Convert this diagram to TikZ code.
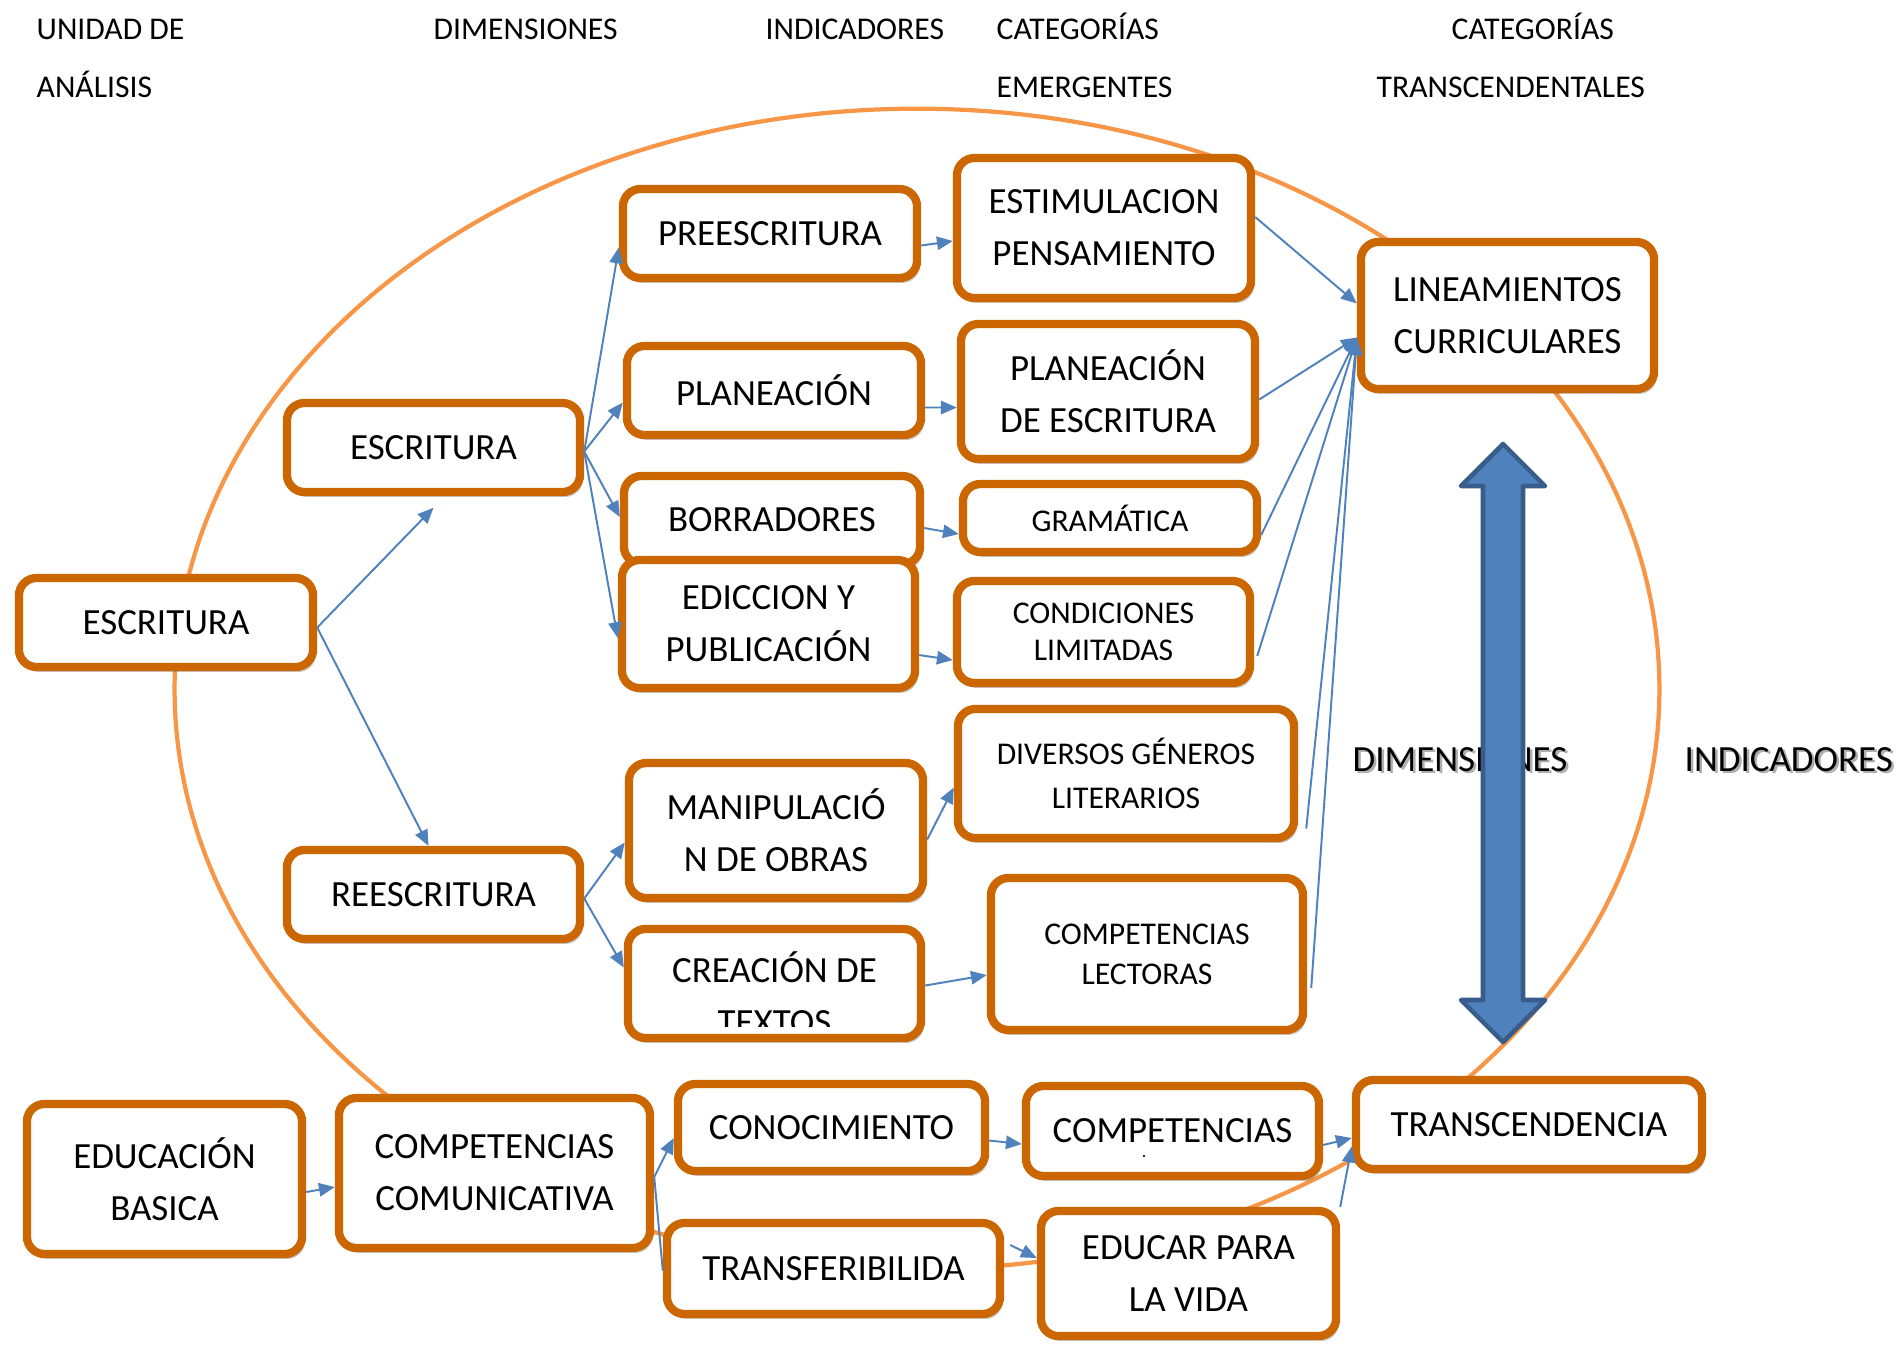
\documentclass[tikz,border=0pt]{standalone}
\usepackage{fontspec}
\setmainfont{Carlito}
\usetikzlibrary{arrows.meta,shadows}
\definecolor{boxc}{RGB}{204,102,0}
\definecolor{ellc}{RGB}{247,150,70}
\definecolor{linkc}{RGB}{79,129,189}
\definecolor{arrfill}{RGB}{79,129,189}
\definecolor{arrline}{RGB}{56,93,138}
\begin{document}
\begin{tikzpicture}[x=0.01cm,y=-0.01cm,
  box/.style={draw=boxc, line width=2.35pt, rounded corners=5pt, fill=white, align=center, inner sep=0pt,
    font=\fontsize{10.5pt}{14.8pt}\selectfont,
    drop shadow={shadow xshift=0.8pt, shadow yshift=-1.4pt, opacity=0.3, fill=black!70}},
  smallfont/.style={font=\fontsize{9pt}{#1}\selectfont},
  conn/.style={draw=linkc, line width=0.55pt, -{Triangle[length=4.5pt,width=3.8pt]}},
  plainlink/.style={draw=linkc, line width=0.55pt},
  head/.style={anchor=base west, inner sep=0pt, font=\fontsize{9pt}{10pt}\selectfont},
  side/.style={anchor=base west, inner sep=0pt, font=\fontsize{10.5pt}{12pt}\selectfont},
  txt/.style={anchor=base, inner sep=0pt, font=\fontsize{10.5pt}{14.8pt}\selectfont},
]
\fill[white] (0,0) rectangle (1896,1356);
\useasboundingbox (0,0) rectangle (1896,1356);

% header
\node[head] (h1) at (36,39) {UNIDAD DE};
\node[head] (h2) at (36,97) {ANÁLISIS};
\node[head] (h3) at (433,39) {DIMENSIONES};
\node[head] (h4) at (765,39) {INDICADORES};
\node[head] (h5) at (996,39) {CATEGORÍAS};
\node[head] (h6) at (996,97) {EMERGENTES};
\node[head] (h7) at (1451,39) {CATEGORÍAS};
\node[head] (h8) at (1376,97) {TRANSCENDENTALES};

% ellipse
\draw[ellc, line width=1.2pt] (917,689) ellipse [x radius=7.42cm, y radius=5.8cm];

% nodes
\node[box, minimum width=2.94cm, minimum height=0.89cm] (esc0) at (166,622.5) {ESCRITURA};
\node[box, minimum width=2.93cm, minimum height=0.89cm] (esc) at (433.5,447.5) {ESCRITURA};
\node[box, minimum width=2.93cm, minimum height=0.89cm] (rees) at (433.5,894.5) {REESCRITURA};
\node[box, minimum width=2.94cm, minimum height=0.89cm] (pre) at (770,233.5) {PREESCRITURA};
\node[box, minimum width=2.94cm, minimum height=0.89cm] (plan) at (774,390.5) {PLANEACIÓN};
\node[box, minimum width=2.96cm, minimum height=0.88cm] (borr) at (772,520) {BORRADORES};
\node[box, minimum width=2.93cm, minimum height=1.28cm] (edic) at (768.5,624) {EDICCION Y\\PUBLICACIÓN};
\node[box, minimum width=2.94cm, minimum height=1.35cm] (manip) at (776,830.5) {MANIPULACIÓ\\N DE OBRAS};
\node[box, minimum width=2.93cm, minimum height=1.09cm] (crea) at (774.5,983.5) {};
\begin{scope}
\clip ([xshift=-0.2cm]crea.north west) rectangle ([xshift=0.2cm,yshift=0.155cm]crea.south east);
\node[txt] (creaA) at (774.5,982) {CREACIÓN DE};
\node[txt] (creaB) at (774.5,1034) {TEXTOS};
\end{scope}
\node[box, minimum width=2.94cm, minimum height=1.40cm] (estim) at (1104,228) {ESTIMULACION\\PENSAMIENTO};
\node[box, minimum width=2.94cm, minimum height=1.35cm] (plde) at (1108,391.5) {PLANEACIÓN\\DE ESCRITURA};
\node[box, smallfont=10.7pt, minimum width=2.94cm, minimum height=0.68cm] (gram) at (1110,518) {GRAMÁTICA};
\node[box, smallfont=10.7pt, minimum width=2.93cm, minimum height=1.02cm] (cond) at (1103.5,632) {CONDICIONES\\LIMITADAS};
\node[box, smallfont=12.7pt, minimum width=3.36cm, minimum height=1.29cm] (div) at (1126,773.5) {DIVERSOS GÉNEROS\\LITERARIOS};
\node[box, smallfont=11.3pt, minimum width=3.12cm, minimum height=1.52cm] (lect) at (1147,954) {COMPETENCIAS\\LECTORAS};
\node[box, minimum width=2.93cm, minimum height=1.47cm] (lin) at (1507.5,315.5) {LINEAMIENTOS\\CURRICULARES};
\node[box, minimum width=3.46cm, minimum height=0.89cm] (trans) at (1529,1124.5) {TRANSCENDENCIA};
\node[box, minimum width=2.75cm, minimum height=1.50cm] (edb) at (164.5,1179) {EDUCACIÓN\\BASICA};
\node[box, minimum width=3.11cm, minimum height=1.50cm] (comc) at (494.5,1173) {COMPETENCIAS\\COMUNICATIVA};
\node[box, minimum width=3.07cm, minimum height=0.87cm] (cono) at (831.5,1127.5) {CONOCIMIENTO};
\node[box, minimum width=2.93cm, minimum height=0.90cm] (comp) at (1172.5,1131) {COMPETENCIAS};
\node[inner sep=0pt, font=\fontsize{5pt}{6pt}\selectfont] (compdot) at (1144,1157) {.};
\node[box, minimum width=3.33cm, minimum height=0.91cm] (transf) at (833.5,1268.5) {TRANSFERIBILIDA};
\node[box, minimum width=2.95cm, minimum height=1.25cm] (educ) at (1188.5,1273.5) {EDUCAR PARA\\LA VIDA};

% connectors
\draw[conn] ([yshift=-0.05cm]esc0.east) -- ([yshift=-0.115cm]esc.south);
\draw[conn] ([yshift=-0.05cm]esc0.east) -- ([xshift=-0.05cm]rees.north);
\draw[conn] ([yshift=-0.04cm]esc.east) -- ([yshift=-0.14cm]pre.west);
\draw[conn] ([yshift=-0.04cm]esc.east) -- ([yshift=-0.12cm]plan.west);
\draw[conn] ([yshift=-0.04cm]esc.east) -- ([yshift=0.03cm]borr.west);
\draw[conn] ([yshift=-0.04cm]esc.east) -- ([yshift=-0.14cm]edic.west);
\draw[conn] ([yshift=-0.04cm]rees.east) -- ([yshift=-0.12cm]manip.west);
\draw[conn] ([yshift=-0.04cm]rees.east) -- ([yshift=0.16cm]crea.west);
\draw[conn] ([yshift=-0.12cm]pre.east) -- ([yshift=-0.13cm]estim.west);
\draw[conn] ([yshift=-0.17cm]plan.east) -- ([yshift=-0.16cm]plde.west);
\draw[conn] ([yshift=-0.08cm]borr.east) -- ([yshift=-0.16cm]gram.west);
\draw[conn] ([yshift=-0.31cm]edic.east) -- ([yshift=-0.28cm]cond.west);
\draw[conn] ([yshift=-0.09cm]manip.east) -- ([yshift=-0.14cm]div.west);
\draw[conn] ([yshift=-0.02cm]crea.east) -- ([yshift=-0.21cm]lect.west);
\draw[conn] ([yshift=0.11cm]estim.east) -- ([yshift=0.12cm]lin.west);
\draw[conn] ([yshift=-0.08cm]plde.east) -- ([yshift=-0.22cm]lin.west);
\draw[conn] ([yshift=-0.17cm]gram.east) -- ([yshift=-0.22cm]lin.west);
\draw[conn] ([xshift=0.03cm,yshift=-0.24cm]cond.east) -- ([yshift=-0.22cm]lin.west);
\draw[conn] ([xshift=0.08cm,yshift=-0.55cm]div.east) -- ([yshift=-0.22cm]lin.west);
\draw[conn] ([xshift=0.04cm,yshift=-0.34cm]lect.east) -- ([yshift=-0.24cm]lin.west);

\draw[conn] ([yshift=-0.13cm]edb.east) -- ([yshift=-0.14cm]comc.west);
\draw[conn] ([yshift=-0.04cm]comc.east) -- ([yshift=-0.105cm]cono.west);
\draw[plainlink] ([yshift=-0.04cm]comc.east) -- ([yshift=-0.02cm]transf.west);
\draw[conn] ([yshift=-0.13cm]cono.east) -- ([yshift=-0.13cm]comp.west);
\draw[conn] ([yshift=-0.14cm]comp.east) -- ([yshift=-0.135cm]trans.west);
\draw[conn] ([xshift=0.06cm,yshift=0.235cm]transf.east) -- ([yshift=0.155cm]educ.west);
\draw[conn] (educ.north east) -- ([yshift=-0.22cm]trans.west);

% side labels
\node[side, text=black!45, opacity=0.7] (dimS) at (1354.5,773.5) {DIMENSIONES};
\node[side] (dimR) at (1352,771) {DIMENSIONES};
\node[side, text=black!45, opacity=0.7] (indS) at (1686.5,773.5) {INDICADORES};
\node[side] (indR) at (1684,771) {INDICADORES};

% big double arrow
\filldraw[fill=arrfill, draw=arrline, line width=1.3pt, line join=round]
  (1503,444) -- (1545,486) -- (1523,486) -- (1523,1000) -- (1545,1000) -- (1503,1042)
  -- (1461,1000) -- (1483,1000) -- (1483,486) -- (1461,486) -- cycle;
\end{tikzpicture}
\end{document}
